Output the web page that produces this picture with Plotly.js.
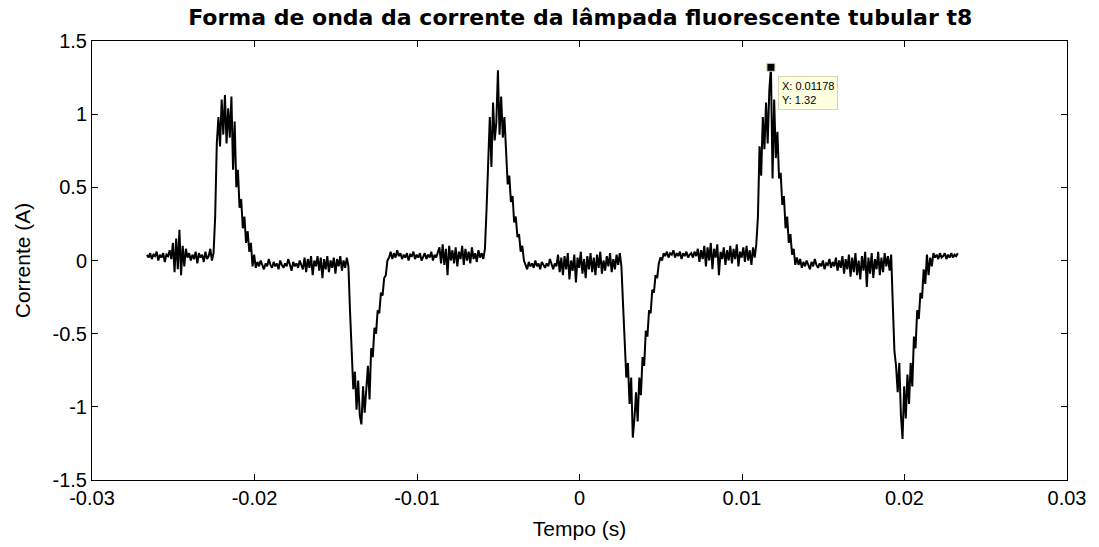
<!DOCTYPE html>
<html>
<head>
<meta charset="utf-8">
<script src="https://cdn.plot.ly/plotly-3.0.1.min.js"></script>
<style>html,body{margin:0;padding:0;background:#fff;}#chart{width:1099px;height:547px;}</style>
</head>
<body>
<div id="chart"></div>
<script>
// Sample clock of the recorded waveform (s)
const t0 = -0.02662;
const dt = 0.0001;

// Current samples (A), segment by segment
const seg01_baseline = [0.04, 0.02, 0.05, 0.01, 0.04, 0.03, 0.06, 0.00, 0.04, 0.02, 0.05, -0.01, 0.04, 0.03, 0.07, 0.01,
  0.12, -0.08, 0.15, -0.06, 0.21, -0.10, 0.10, -0.04, 0.08,
  0.02, 0.05, 0.00, 0.04, 0.01, 0.06, -0.02, 0.05, 0.02, 0.04, -0.01, 0.06, 0.01, 0.03, 0.08, 0.00, 0.05];
const seg02_pulsePos1 = [0.30, 0.80, 0.98, 0.78, 1.10, 0.86, 1.13, 0.80, 1.04, 0.84, 1.12, 0.62, 0.95, 0.50, 0.62, 0.36, 0.42, 0.22, 0.30, 0.12, 0.20, 0.06, 0.12, -0.04, 0.04];
const seg03_flat = [-0.05, -0.01, -0.04, 0.00, -0.03, -0.06, -0.02, -0.04, 0.01, -0.03, -0.05, -0.01, -0.04, -0.02, -0.06, 0.00, -0.03, -0.05, -0.02, -0.04, 0.01, -0.03, -0.07, -0.01, -0.04, -0.02, -0.05, 0.00, -0.03, -0.06,
  0.02, -0.08, 0.01, -0.05, 0.03, -0.10, 0.00, -0.04, 0.03, -0.07, 0.02, -0.12, 0.01, -0.06, 0.03, -0.08, 0.00, -0.05, 0.02, -0.09, 0.01, -0.04, 0.03, -0.07, 0.00, -0.05, 0.02, -0.04];
const seg04_pulseNeg1 = [-0.35, -0.62, -0.88, -0.76, -1.02, -0.82, -1.06, -1.12, -0.86, -1.04, -0.90, -0.72, -0.95, -0.60, -0.66, -0.46, -0.50, -0.34, -0.36, -0.22, -0.24, -0.12, -0.10, 0.00, 0.02];
const seg05_flat = [0.06, 0.01, 0.05, 0.02, 0.07, 0.03, 0.05, 0.01, 0.04, 0.02, 0.05, 0.00, 0.04, 0.03, 0.06, 0.01, 0.04, 0.02, 0.05, 0.00, 0.03, 0.05, 0.01, 0.04, 0.02, 0.06, 0.00, 0.04, 0.02, 0.05,
  0.09, -0.02, 0.11, -0.03, 0.08, -0.10, 0.10, 0.00, 0.07, -0.02, 0.09, -0.04, 0.06, 0.01, 0.10, -0.03, 0.08, 0.00, 0.06, -0.02, 0.09, 0.01, 0.05, -0.01, 0.07, 0.02, 0.05, 0.01, 0.08];
const seg06_pulsePos2 = [0.35, 0.72, 0.98, 0.64, 1.08, 0.82, 0.94, 1.30, 0.86, 1.12, 0.84, 0.98, 0.70, 0.52, 0.58, 0.40, 0.44, 0.26, 0.30, 0.16, 0.18, 0.06, 0.10, 0.00];
const seg07_flat = [-0.03, -0.06, -0.01, -0.04, -0.02, -0.05, 0.00, -0.04, -0.02, -0.06, -0.01, -0.03, -0.05, -0.02, -0.04, 0.01, -0.03, -0.06, -0.02, -0.04,
  0.04, -0.08, 0.02, -0.10, 0.03, -0.06, 0.05, -0.13, 0.00, -0.07, 0.04, -0.15, 0.02, -0.05, 0.06, -0.09, 0.01, -0.12, 0.03, -0.06,
  0.05, -0.08, 0.02, -0.10, 0.04, -0.05, 0.06, -0.09, 0.00, -0.07, 0.03, -0.04, 0.05, -0.08, 0.01, -0.06, 0.04, -0.03, 0.05, -0.04];
const seg08_pulseNeg2 = [-0.30, -0.58, -0.80, -0.70, -0.98, -0.80, -1.21, -1.08, -0.90, -1.10, -0.80, -0.92, -0.66, -0.72, -0.48, -0.52, -0.34, -0.36, -0.20, -0.22, -0.10, -0.12, -0.02, 0.02, 0.00, 0.05];
const seg09_flat = [0.03, 0.06, 0.02, 0.05, 0.04, 0.07, 0.02, 0.05, 0.03, 0.06, 0.01, 0.05, 0.03, 0.06, 0.02, 0.04, 0.05, 0.02, 0.06, 0.03,
  0.08, -0.01, 0.07, 0.01, 0.10, -0.04, 0.09, 0.00, 0.12, -0.06, 0.08, 0.02, 0.11, -0.10, 0.06, 0.01, 0.09, -0.03, 0.07, 0.00,
  0.10, -0.02, 0.08, 0.01, 0.11, -0.04, 0.06, 0.02, 0.09, -0.01, 0.10, 0.00, 0.07, -0.03, 0.09, 0.02, 0.11];
const seg10_pulsePos3 = [0.30, 0.78, 0.58, 0.98, 0.76, 1.08, 0.80, 1.16, 1.32, 0.56, 1.10, 0.70, 0.88, 0.56, 0.60, 0.38, 0.44, 0.22, 0.30, 0.12, 0.18, 0.04, 0.08, -0.03, 0.02];
const seg11_flat = [-0.03, 0.01, -0.05, -0.01, -0.04, 0.00, -0.03, -0.06, -0.01, -0.04, 0.01, -0.03, -0.05, -0.02, -0.04, 0.00, -0.06, -0.02, -0.03, 0.01,
  -0.05, -0.01, -0.04, 0.02, -0.07, 0.00, -0.05, 0.03, -0.09, 0.01, -0.06, 0.04, -0.11, 0.02, -0.08, 0.05, -0.10, 0.00, -0.13, 0.03,
  -0.07, 0.06, -0.18, 0.02, -0.09, 0.05, -0.12, 0.01, -0.06, 0.06, -0.10, 0.02, -0.08, 0.05, -0.04, 0.03, -0.07, 0.04];
const seg12_pulseNeg3 = [-0.30, -0.62, -0.72, -0.90, -0.70, -1.06, -1.22, -0.86, -1.08, -0.78, -0.98, -0.70, -0.86, -0.52, -0.60, -0.34, -0.40, -0.22, -0.26, -0.06, -0.16, 0.04, -0.10, 0.02, -0.04, 0.05];
const seg13_baseline = [0.02, 0.04, 0.01, 0.05, 0.02, 0.03, 0.05, 0.01, 0.04, 0.02, 0.05, 0.02, 0.04, 0.03, 0.05];

// Data tip shown on the figure
const tipX = [0.01178];
const tipY = [1.32];

// Axis ticks
const xTicks = [-0.03, -0.02, -0.01, 0, 0.01, 0.02, 0.03];
const xTickText = ['-0.03', '-0.02', '-0.01', '0', '0.01', '0.02', '0.03'];
const yTicks = [-1.5, -1, -0.5, 0, 0.5, 1, 1.5];
const yTickText = ['-1.5', '-1', '-0.5', '0', '0.5', '1', '1.5'];

const current = [].concat(seg01_baseline, seg02_pulsePos1, seg03_flat, seg04_pulseNeg1, seg05_flat,
  seg06_pulsePos2, seg07_flat, seg08_pulseNeg2, seg09_flat, seg10_pulsePos3, seg11_flat,
  seg12_pulseNeg3, seg13_baseline);
const time = current.map((_, i) => t0 + i * dt);

const FONT = 'Liberation Sans, Arial, Helvetica, sans-serif';

const traces = [
  {
    x: time, y: current, type: 'scatter', mode: 'lines',
    line: {color: '#000000', width: 2},
    hoverinfo: 'skip', showlegend: false
  },
  {
    x: tipX, y: tipY, type: 'scatter', mode: 'markers',
    marker: {symbol: 'square', size: 8, color: '#000000', line: {color: '#d8d8a8', width: 1}},
    hoverinfo: 'skip', showlegend: false
  }
];

const layout = {
  width: 1099, height: 547,
  margin: {l: 92, r: 32, t: 41, b: 67, pad: 0},
  paper_bgcolor: '#ffffff', plot_bgcolor: '#ffffff',
  showlegend: false,
  title: {
    text: '<b>Forma de onda da corrente da lâmpada fluorescente tubular t8</b>',
    font: {family: 'DejaVu Sans, Liberation Sans, Arial, sans-serif', size: 22, color: '#000000'},
    x: 0.528, xanchor: 'center', y: 0.968, yanchor: 'middle'
  },
  xaxis: {
    range: [-0.03, 0.03], tickmode: 'array', tickvals: xTicks, ticktext: xTickText,
    ticks: 'inside', ticklen: 6, tickwidth: 1, tickcolor: '#000000',
    showline: true, linecolor: '#000000', linewidth: 1, mirror: 'ticks',
    showgrid: false, zeroline: false,
    tickfont: {family: FONT, size: 20, color: '#000000'},
    title: {text: 'Tempo (s)', font: {family: FONT, size: 21, color: '#000000'}, standoff: 13},
    automargin: false
  },
  yaxis: {
    range: [-1.5, 1.5], tickmode: 'array', tickvals: yTicks, ticktext: yTickText,
    ticks: 'inside', ticklen: 6, tickwidth: 1, tickcolor: '#000000',
    showline: true, linecolor: '#000000', linewidth: 1, mirror: 'ticks',
    showgrid: false, zeroline: false,
    tickfont: {family: FONT, size: 20, color: '#000000'},
    title: {text: 'Corrente (A)', font: {family: FONT, size: 21, color: '#000000'}, standoff: 16},
    automargin: false
  },
  annotations: [{
    x: tipX[0], y: tipY[0], xref: 'x', yref: 'y',
    text: 'X: ' + tipX[0] + '<br>Y: ' + tipY[0],
    showarrow: false, xanchor: 'left', yanchor: 'top', align: 'left',
    xshift: 7, yshift: -9,
    font: {family: FONT, size: 11, color: '#000000'},
    bgcolor: '#ffffe1', bordercolor: '#d6d6b0', borderwidth: 1, borderpad: 3
  }]
};

Plotly.newPlot('chart', traces, layout, {displayModeBar: false, staticPlot: true});
</script>
</body>
</html>
